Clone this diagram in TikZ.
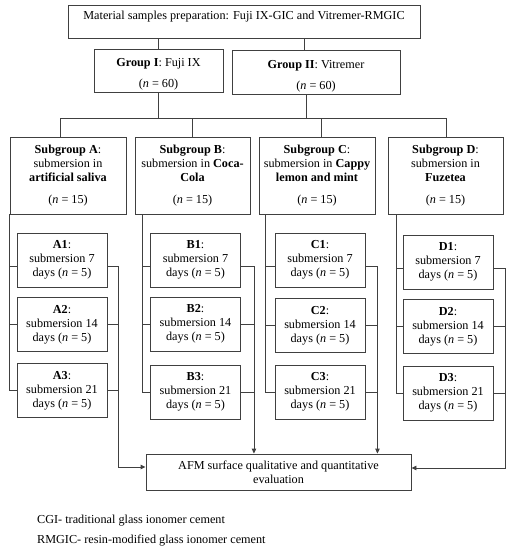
\documentclass[tikz,border=0pt]{standalone}
\usepackage{fontspec}
\setmainfont{Liberation Serif}
\usetikzlibrary{arrows.meta}
\begin{document}
\begin{tikzpicture}[x=1pt,y=-1pt,
  every node/.style={font=\fontsize{12.2}{14}\selectfont, inner sep=0pt},
  box/.style={draw=black!75, line width=0.9pt, align=center},
  sbox/.style={box, minimum width=90pt, minimum height=54pt},
  subbox/.style={box, minimum width=116pt, minimum height=77pt},
  ln/.style={draw=black!75, line width=0.9pt},
  arr/.style={ln, -{Triangle[length=5pt,width=4.5pt]}}]
\useasboundingbox (0,0) rectangle (512,550);

% top and groups
\node[box, minimum width=352pt, minimum height=33pt] (top) at (244,21.5)
  {\rule{0pt}{10.5pt}Material samples preparation: Fuji IX-GIC and Vitremer-RMGIC\\~};
\node[box, minimum width=129pt, minimum height=43pt] (g1) at (158.5,70.5)
  {\rule{0pt}{16.5pt}\textbf{Group I}: Fuji IX\\[7pt](\textit{n} = 60)};
\node[box, minimum width=168pt, minimum height=44pt] (g2) at (316,72)
  {\rule{0pt}{16.5pt}\textbf{Group II}: Vitremer\\[7pt](\textit{n} = 60)};

% subgroups
\node[subbox] (sa) at (68,175.5)
  {\textbf{Subgroup A}:\\submersion in\\\textbf{artificial saliva}\\[8pt](\textit{n} = 15)};
\node[subbox, minimum width=115pt] (sb) at (192.5,175.5)
  {\textbf{Subgroup B}:\\submersion in \textbf{Coca-}\\\textbf{Cola}\\[8pt](\textit{n} = 15)};
\node[subbox] (sc) at (317,176)
  {\textbf{Subgroup C}:\\submersion in \textbf{Cappy}\\\textbf{lemon and mint}\\[8pt](\textit{n} = 15)};
\node[subbox, minimum width=115pt] (sd) at (445.5,176)
  {\textbf{Subgroup D}:\\submersion in\\\textbf{Fuzetea}\\[8pt](\textit{n} = 15)};

% small boxes
\node[sbox] (a1) at (62,260)   {\textbf{A1}:\\submersion 7\\days (\textit{n} = 5)};
\node[sbox] (a2) at (62,324.5) {\textbf{A2}:\\submersion 14\\days (\textit{n} = 5)};
\node[sbox] (a3) at (62,390.5) {\textbf{A3}:\\submersion 21\\days (\textit{n} = 5)};
\node[sbox] (b1) at (195.5,260) {\textbf{B1}:\\submersion 7\\days (\textit{n} = 5)};
\node[sbox] (b2) at (195.5,324) {\textbf{B2}:\\submersion 14\\days (\textit{n} = 5)};
\node[sbox] (b3) at (195.5,392) {\textbf{B3}:\\submersion 21\\days (\textit{n} = 5)};
\node[sbox] (c1) at (320,260)   {\textbf{C1}:\\submersion 7\\days (\textit{n} = 5)};
\node[sbox] (c2) at (320,325.5) {\textbf{C2}:\\submersion 14\\days (\textit{n} = 5)};
\node[sbox] (c3) at (320,392)   {\textbf{C3}:\\submersion 21\\days (\textit{n} = 5)};
\node[sbox] (d1) at (448,262)   {\textbf{D1}:\\submersion 7\\days (\textit{n} = 5)};
\node[sbox] (d2) at (448,326.5) {\textbf{D2}:\\submersion 14\\days (\textit{n} = 5)};
\node[sbox] (d3) at (448,393)   {\textbf{D3}:\\submersion 21\\days (\textit{n} = 5)};

% evaluation box
\node[box, minimum width=265pt, minimum height=36pt] (afm) at (278.5,472)
  {AFM surface qualitative and quantitative\\evaluation};

% footnotes
\node[anchor=base west] (n1) at (37,523) {CGI- traditional glass ionomer cement};
\node[anchor=base west] (n2) at (37,543) {RMGIC- resin-modified glass ionomer cement};

% top -> groups
\coordinate (g2in) at ([xshift=-12pt]g2.north);
\draw[ln] (top.south -| g1.north) -- (g1.north);
\draw[ln] (top.south -| g2in) -- (g2in);

% groups -> bus -> subgroups
\coordinate (busL) at (60,118);
\coordinate (busR) at (446,118);
\coordinate (g2out) at ([xshift=-10pt]g2.south);
\draw[ln] (g1.south) -- (g1.south |- busL);
\draw[ln] (g2out) -- (g2out |- busL);
\draw[ln] (busL |- sa.north) -- (busL) -- (busR) -- (busR |- sd.north);
\draw[ln] (sb.north |- busL) -- (sb.north);
\coordinate (scin) at ([xshift=4pt]sc.north);
\draw[ln] (scin |- busL) -- (scin);

% left brackets
\coordinate (aL) at (sa.south west);
\coordinate (bL) at ([xshift=8pt]sb.south west);
\coordinate (cL) at ([xshift=7pt]sc.south west);
\coordinate (dL) at ([xshift=9pt]sd.south west);
\foreach \g in {a,b,c,d}{
  \coordinate (\g1w) at ([yshift=-6pt]\g1.west);
  \coordinate (\g1e) at ([yshift=-6pt]\g1.east);
  \draw[ln] (\g L) -- (\g L |- \g3.west) -- (\g3.west);
  \draw[ln] (\g L |- \g1w) -- (\g1w);
  \draw[ln] (\g L |- \g2.west) -- (\g2.west);
}

% right brackets
\coordinate (aRx) at ([xshift=11pt]a1.east);
\coordinate (bRx) at ([xshift=13pt]b1.east);
\coordinate (cRx) at ([xshift=12pt]c1.east);
\coordinate (dRx) at ([xshift=12pt]d1.east);
\foreach \g in {a,b,c,d}{
  \draw[ln] (\g1e) -- (\g1e -| \g Rx);
  \draw[ln] (\g2.east) -- (\g2.east -| \g Rx);
  \draw[ln] (\g3.east) -- (\g3.east -| \g Rx);
}
\draw[arr] (a1e -| aRx) |- ([yshift=5pt]afm.west);
\draw[arr] (b1e -| bRx) -- (bRx |- afm.north);
\draw[arr] (c1e -| cRx) -- (cRx |- afm.north);
\draw[arr] (d1e -| dRx) |- ([yshift=4pt]afm.east);
\end{tikzpicture}
\end{document}
